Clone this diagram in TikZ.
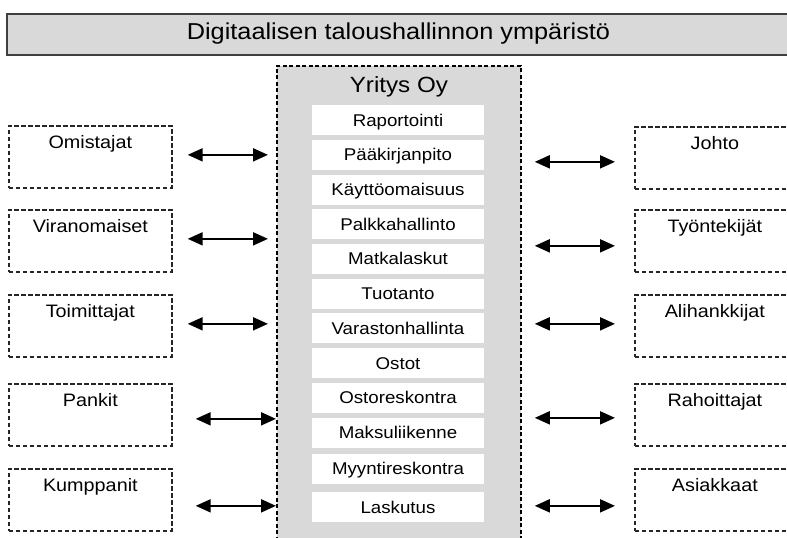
\documentclass[tikz,border=0pt]{standalone}
\usepackage{fontspec}
\setmainfont{Liberation Sans}[FakeStretch=1.1]
\usetikzlibrary{arrows.meta,calc}
\definecolor{panelgray}{HTML}{D9D9D9}
\definecolor{edgegray}{HTML}{3F3F3F}

\begin{document}
\begin{tikzpicture}[x=1pt,y=-1pt,
  titlebox/.style={draw=edgegray, line width=2pt, fill=panelgray, inner sep=0pt,
    anchor=north west, font=\fontsize{23}{27}\selectfont},
  companybox/.style={draw=black, line width=1.8pt, dash pattern=on 4pt off 2.5pt,
    fill=panelgray, inner sep=0pt, anchor=north west, minimum width=244pt,
    font=\fontsize{22}{26}\selectfont},
  unitbox/.style={fill=white, inner sep=0pt, minimum width=172pt, minimum height=30pt,
    text height=12pt, text depth=0pt, font=\fontsize{17}{20}\selectfont},
  partybox/.style={draw=black!85, line width=1.7pt, dash pattern=on 4.5pt off 2.5pt,
    inner sep=0pt, anchor=north west, text height=23pt, text depth=39pt,
    font=\fontsize{18}{21}\selectfont},
  leftparty/.style={partybox, minimum width=163pt},
  rightparty/.style={partybox, minimum width=160pt},
  biarrow/.style={{Triangle[length=15pt,width=13pt]}-{Triangle[length=15pt,width=13pt]},
    line width=2pt, draw=black}
]
\useasboundingbox (0,0) rectangle (787,538);
\clip (0,0) rectangle (787,538);

% heading bar
\node[titlebox, minimum width=783pt, text height=25.3pt, text depth=16pt] (title)
  at (6,12.7) {Digitaalisen taloushallinnon ympäristö};

% the company and its functions
\node[companybox, text height=27pt, text depth=470pt] (yritys) at (276,65) {Yritys Oy};
\node[unitbox] (raportointi) at (398,120)   {Raportointi};
\node[unitbox] (paakirja)    at (398,154.5) {Pääkirjanpito};
\node[unitbox] (kayttoom)    at (398,189.5) {Käyttöomaisuus};
\node[unitbox] (palkka)      at (398,224.2) {Palkkahallinto};
\node[unitbox] (matka)       at (398,258.9) {Matkalaskut};
\node[unitbox] (tuotanto)    at (398,293.6) {Tuotanto};
\node[unitbox] (varasto)     at (398,328.3) {Varastonhallinta};
\node[unitbox] (ostot)       at (398,363)   {Ostot};
\node[unitbox] (ostoresk)    at (398,397.5) {Ostoreskontra};
\node[unitbox] (maksu)       at (398,432.5) {Maksuliikenne};
\node[unitbox] (myyntiresk)  at (398,468.5) {Myyntireskontra};
\node[unitbox] (laskutus)    at (398,507)   {Laskutus};

% stakeholders on the left
\node[leftparty] (omistajat)    at (8,125) {Omistajat};
\node[leftparty] (viranomaiset) at (8,209) {Viranomaiset};
\node[leftparty] (toimittajat)  at (8,294) {Toimittajat};
\node[leftparty] (pankit)       at (8,383) {Pankit};
\node[leftparty] (kumppanit)    at (8,468) {Kumppanit};

% stakeholders on the right
\node[rightparty] (johto)        at (634,126) {Johto};
\node[rightparty] (tyontekijat)  at (634,209) {Työntekijät};
\node[rightparty] (alihankkijat) at (634,294) {Alihankkijat};
\node[rightparty] (rahoittajat)  at (634,383) {Rahoittajat};
\node[rightparty] (asiakkaat)    at (634,468) {Asiakkaat};

% two-way flows, left side
\draw[biarrow] ($(omistajat.east)+(15,-2)$) -- ($(omistajat.east -| yritys.west)+(-8,-2)$);
\draw[biarrow] ($(viranomaiset.east)+(15,-2)$) -- ($(viranomaiset.east -| yritys.west)+(-8,-2)$);
\draw[biarrow] ($(toimittajat.east)+(15,-2)$) -- ($(toimittajat.east -| yritys.west)+(-8,-2)$);
\draw[biarrow] ($(pankit.east)+(23,4)$) -- ($(pankit.east -| yritys.west)+(0,4)$);
\draw[biarrow] ($(kumppanit.east)+(23,6)$) -- ($(kumppanit.east -| yritys.west)+(0,6)$);

% two-way flows, right side
\draw[biarrow] ($(johto.west -| yritys.east)+(13,4)$) -- ($(johto.west)+(-19,4)$);
\draw[biarrow] ($(tyontekijat.west -| yritys.east)+(13,5)$) -- ($(tyontekijat.west)+(-19,5)$);
\draw[biarrow] ($(alihankkijat.west -| yritys.east)+(13,-2)$) -- ($(alihankkijat.west)+(-19,-2)$);
\draw[biarrow] ($(rahoittajat.west -| yritys.east)+(13,3)$) -- ($(rahoittajat.west)+(-19,3)$);
\draw[biarrow] ($(asiakkaat.west -| yritys.east)+(13,6)$) -- ($(asiakkaat.west)+(-19,6)$);
\end{tikzpicture}
\end{document}
